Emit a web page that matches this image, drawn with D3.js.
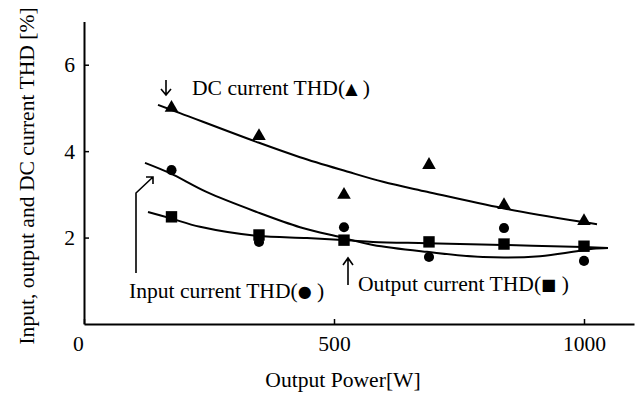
<!DOCTYPE html>
<html>
<head>
<meta charset="utf-8">
<script src="https://cdn.jsdelivr.net/npm/d3@7"></script>
<style>
  body { margin: 0; background: #fff; }
  text { font-family: "Liberation Serif", "Times New Roman", serif; fill: #000; }
</style>
</head>
<body>
<script>
'use strict';

// measured points
const power = [175, 350, 520, 690, 840, 1000];
const dcThd = [5.0, 4.35, 2.99, 3.68, 2.75, 2.38];
const inputThd = [3.56, 1.90, 2.24, 1.55, 2.22, 1.46];
const outputThd = [2.48, 2.06, 1.94, 1.90, 1.85, 1.80];

// fitted trend lines
const dcFitPower = [148, 192, 346, 432, 526, 598, 686, 838, 998, 1026];
const dcFit = [5.07, 4.88, 4.21, 3.86, 3.53, 3.29, 3.06, 2.68, 2.36, 2.31];
const inputFitPower = [122, 172, 246, 346, 432, 512, 578, 686, 798, 912, 978, 1018, 1048];
const inputFit = [3.73, 3.49, 3.05, 2.59, 2.24, 2.01, 1.83, 1.67, 1.55, 1.57, 1.67, 1.74, 1.76];
const outputFitPower = [128, 172, 232, 346, 446, 526, 578, 686, 838, 998, 1048];
const outputFit = [2.59, 2.45, 2.25, 2.04, 1.99, 1.94, 1.90, 1.87, 1.83, 1.78, 1.76];

const xTicks = [0, 500, 1000];
const yTicks = [2, 4, 6];

const width = 639, height = 394,
      fontSize = "21.6px";

const x = d3.scaleLinear().domain([0, 1100]).range([84, 634]);
const y = d3.scaleLinear().domain([0, 7]).range([324, 21.5]);

const svg = d3.select("body").append("svg")
    .attr("width", width)
    .attr("height", height);

// axes
const xAxis = svg.append("g")
    .attr("transform", "translate(0," + y(0) + ")")
    .call(d3.axisBottom(x).tickValues(xTicks).tickFormat(d3.format("d"))
      .tickSizeInner(-5).tickSizeOuter(0).tickPadding(12));
const yAxis = svg.append("g")
    .attr("transform", "translate(" + x(0) + ",0)")
    .call(d3.axisLeft(y).tickValues(yTicks).tickFormat(d3.format("d"))
      .tickSizeInner(-5).tickSizeOuter(0).tickPadding(9));

[xAxis, yAxis].forEach((g) => {
  g.attr("font-family", null).attr("font-size", null);
  g.select(".domain").attr("stroke", "#000").attr("stroke-width", 2);
  g.selectAll(".tick line").attr("stroke", "#000").attr("stroke-width", 1.5);
  g.selectAll(".tick text").style("font-size", fontSize);
});
// the "0" label sits a bit left of the origin
xAxis.selectAll(".tick text").filter((d) => d === 0).attr("dx", -6);

// axis titles
svg.append("text")
    .attr("x", 343).attr("y", 387)
    .attr("text-anchor", "middle")
    .style("font-size", fontSize)
    .text("Output Power[W]");

svg.append("text")
    .attr("transform", "translate(34,176) rotate(-90)")
    .attr("text-anchor", "middle")
    .style("font-size", fontSize)
    .text("Input, output and DC current THD [%]");

// trend lines
const line = d3.line()
    .x((d) => x(d[0]))
    .y((d) => y(d[1]))
    .curve(d3.curveCatmullRom);

const fits = [
  d3.zip(dcFitPower, dcFit),
  d3.zip(inputFitPower, inputFit),
  d3.zip(outputFitPower, outputFit)
];

svg.selectAll(".fit")
    .data(fits)
  .enter().append("path")
    .attr("class", "fit")
    .attr("d", line)
    .attr("fill", "none")
    .attr("stroke", "#000")
    .attr("stroke-width", 2);

// markers
const series = [
  {values: dcThd, type: d3.symbolTriangle, size: 80},
  {values: inputThd, type: d3.symbolCircle, size: 80},
  {values: outputThd, type: d3.symbolSquare, size: 130}
];

series.forEach((s) => {
  svg.append("g").selectAll("path")
      .data(d3.zip(power, s.values))
    .enter().append("path")
      .attr("transform", (d) => "translate(" + x(d[0]) + "," + y(d[1]) + ")")
      .attr("d", d3.symbol().type(s.type).size(s.size))
      .attr("fill", "#000");
});

// annotations
const notes = [
  {x: 192, y: 95, label: "DC current THD(", sym: "\u25B2"},
  {x: 129, y: 298, label: "Input current THD(", sym: "\u25CF"},
  {x: 358, y: 291, label: "Output current THD(", sym: "\u25A0"}
];

notes.forEach((n) => {
  const t = svg.append("text")
      .attr("x", n.x).attr("y", n.y)
      .style("font-size", fontSize);
  t.append("tspan").text(n.label);
  t.append("tspan").attr("dy", -1).style("font-size", "16px").attr("font-family", "DejaVu Sans").text(n.sym);
  t.append("tspan").attr("dy", 1).text(" )");
});

// arrows
const arrows = [
  "M166,80 V95 M161,89 L166,95 L171,89",
  "M136,273 V193 L153,177 M146,177 H153 V184",
  "M348,285 V258 M343,265 L348,258 L353,265"
];

svg.selectAll(".arrow")
    .data(arrows)
  .enter().append("path")
    .attr("class", "arrow")
    .attr("d", (d) => d)
    .attr("fill", "none")
    .attr("stroke", "#000")
    .attr("stroke-width", 1.6);
</script>
</body>
</html>
